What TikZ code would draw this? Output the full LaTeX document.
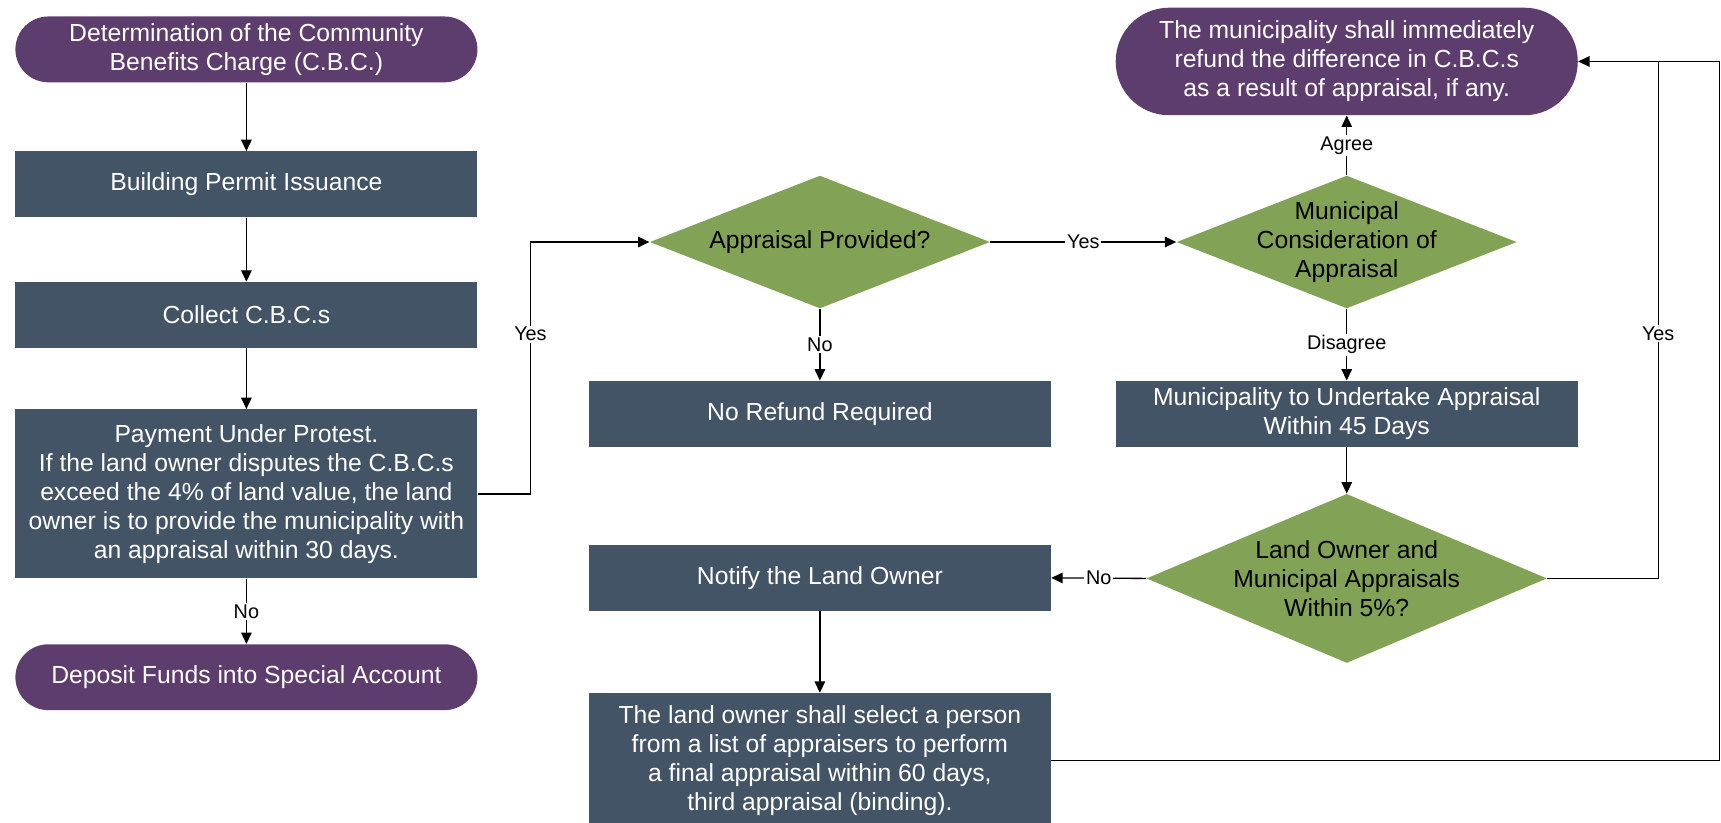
\documentclass[tikz,border=0pt]{standalone}
\usepackage{fontspec}
\setmainfont{Liberation Sans}
\usepackage{xcolor}
\usepackage{tikz}
\usetikzlibrary{shapes.geometric,arrows.meta}

\definecolor{termpurple}{HTML}{5D3D6E}
\definecolor{procslate}{HTML}{425465}
\definecolor{decgreen}{HTML}{82A356}

\tikzset{%
  term/.style={rectangle, fill=termpurple, text=white, minimum width=9.262cm, inner sep=0pt, align=center, font=\fontsize{14.1pt}{16.6pt}\selectfont},%
  proc/.style={rectangle, fill=procslate, text=white, minimum width=9.262cm, inner sep=0pt, align=center, font=\fontsize{14.1pt}{16.6pt}\selectfont},%
  decision/.style={diamond, fill=decgreen, inner sep=0pt},%
  dectext/.style={align=center, text=black, font=\fontsize{14.1pt}{16.6pt}\selectfont},%
  lbl/.style={fill=white, inner sep=1pt, font=\fontsize{11.3pt}{13pt}\selectfont},%
  arr/.style={-{Triangle[length=6.5pt,width=6pt]}, line width=0.75pt},%
  conn/.style={line width=0.75pt}%
}

\begin{document}
\begin{tikzpicture}[x=0.022cm, y=-0.022cm]%
\useasboundingbox (0,0) rectangle (1568,749);%
\node[term, minimum height=1.32cm, rounded corners=0.66cm] (det) at (224.5, 45) {Determination of the Community\\Benefits Charge (C.B.C.)};%
\node[proc, minimum height=1.32cm] (bpi) at (224.5, 168) {Building Permit Issuance};%
\node[proc, minimum height=1.32cm] (col) at (224.5, 287) {Collect C.B.C.s};%
\node[proc, minimum height=3.388cm] (pay) at (224.5, 450) {Payment Under Protest.\\If the land owner disputes the C.B.C.s\\exceed the 4\% of land value, the land\\owner is to provide the municipality with\\an appraisal within 30 days.};%
\node[term, minimum height=1.32cm, rounded corners=0.66cm] (dep) at (224.5, 617) {Deposit Funds into Special Account};%
\node[decision, minimum width=6.82cm, minimum height=2.662cm] (apr) at (747, 220.5) {};%
\node[dectext] (aprt) at (apr) {Appraisal Provided?};%
\node[proc, minimum height=1.32cm] (nrr) at (747, 377) {No Refund Required};%
\node[decision, minimum width=6.82cm, minimum height=2.662cm] (mca) at (1227, 220.5) {};%
\node[dectext] (mcat) at (mca) {Municipal\\Consideration of\\Appraisal};%
\node[term, minimum height=2.156cm, rounded corners=1.07cm] (ref) at (1227, 56) {The municipality shall immediately\\refund the difference in C.B.C.s\\as a result of appraisal, if any.};%
\node[proc, minimum height=1.32cm] (mua) at (1227, 377) {Municipality to Undertake Appraisal\\Within 45 Days};%
\node[decision, minimum width=8.03cm, minimum height=3.388cm] (low) at (1227, 527) {};%
\node[dectext] (lowt) at (low) {Land Owner and\\Municipal Appraisals\\Within 5\%?};%
\node[proc, minimum height=1.32cm] (ntf) at (747, 526.5) {Notify the Land Owner};%
\node[proc, minimum height=2.706cm] (fin) at (747, 693) {The land owner shall select a person\\from a list of appraisers to perform\\a final appraisal within 60 days,\\third appraisal (binding).};%
\path (ref.east) ++(73,0) coordinate (rt) ++(56,0) coordinate (rc);%
\draw[arr] (det) -- (bpi);%
\draw[arr] (bpi) -- (col);%
\draw[arr] (col) -- (pay);%
\draw[arr] (pay) -- node[lbl] {No} (dep);%
\draw[arr] (pay.east) -- ++(48,0) |- node[lbl, pos=0.317] {Yes} (apr.west);%
\draw[arr] (apr.east) -- node[lbl] {Yes} (mca.west);%
\draw[arr] (apr.south) -- node[lbl] {No} (nrr.north);%
\draw[arr] (mca.north) -- node[lbl] {Agree} (ref.south);%
\draw[arr] (mca.south) -- node[lbl] {Disagree} (mua.north);%
\draw[arr] (mua.south) -- (low.north);%
\draw[arr] (low.west) -- node[lbl] {No} (ntf.east);%
\draw[arr] (ntf.south) -- (fin.north);%
\draw[arr] (low.east) -| node[lbl, pos=0.737] {Yes} (rt) -- (ref.east);%
\draw[conn] (fin.east) -| (rc) -- (rt);%
\end{tikzpicture}
\end{document}
